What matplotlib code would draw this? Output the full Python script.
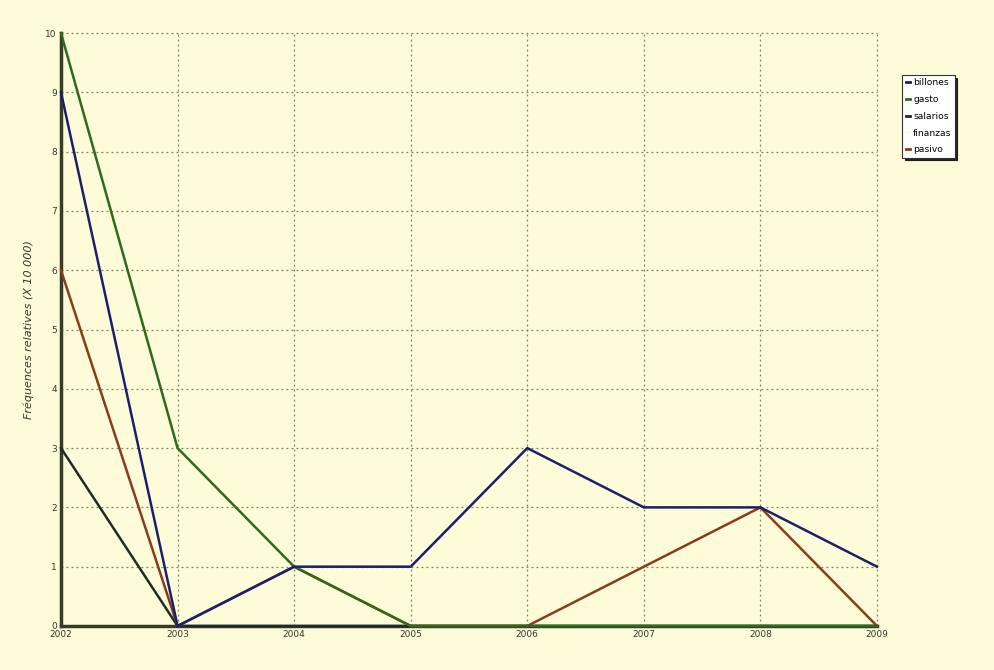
import matplotlib.pyplot as plt

years = [2002, 2003, 2004, 2005, 2006, 2007, 2008, 2009]
billones = [9, 0, 1, 1, 3, 2, 2, 1]
gasto = [10, 3, 1, 0, 0, 0, 0, 0]
salarios = [3, 0, 0, 0, 0, 0, 0, 0]
finanzas = [0, 0, 0, 0, 0, 0, 0, 0]
pasivo = [6, 0, 1, 0, 0, 1, 2, 0]

bg = '#fefcd8'
series = [
    ('finanzas', finanzas, bg, 1),
    ('salarios', salarios, '#1f2b2a', 3),
    ('pasivo', pasivo, '#8a3b1c', 4),
    ('gasto', gasto, '#2c6a1c', 5),
    ('billones', billones, '#1c1f6e', 6),
]
legend_order = ['billones', 'gasto', 'salarios', 'finanzas', 'pasivo']

fig = plt.figure(figsize=(9.95, 6.7), dpi=100)
fig.patch.set_facecolor(bg)
ax = fig.add_axes([0.0613, 0.0657, 0.8201, 0.885])
ax.set_facecolor(bg)

handles = {}
for name, vals, col, z in series:
    ln, = ax.plot(years, vals, color=col, linewidth=1.8, zorder=z, label=name,
                  clip_on=False)
    handles[name] = ln

ax.set_xlim(2002, 2009)
ax.set_ylim(0, 10)
ax.set_xticks(years)
ax.set_yticks(range(11))
ax.tick_params(length=0, labelsize=6.5, colors='#333333', pad=3)
ax.grid(True, linestyle=(0, (1.5, 2.5)), color='#7d7d5c', linewidth=0.9)
for gl in ax.get_xgridlines() + ax.get_ygridlines():
    gl.set_clip_on(False)
for s in ['top', 'right']:
    ax.spines[s].set_visible(False)
ax.spines['left'].set_color('#3a3a2a')
ax.spines['left'].set_linewidth(2.5)
ax.spines['bottom'].set_color('#3a3a2a')
ax.spines['bottom'].set_linewidth(2.5)
ax.set_axisbelow(True)

ax.set_ylabel('Fréquences relatives (X 10 000)', fontsize=8, style='italic', color='#333333', labelpad=8)

leg = fig.legend([handles[n] for n in legend_order], legend_order,
                 loc='upper left', bbox_to_anchor=(0.907, 0.888), fontsize=6.6,
                 handlelength=0.5, handletextpad=0.3, borderpad=0.35, labelspacing=0.85,
                 borderaxespad=0, frameon=True, fancybox=False,
                 shadow={'color': '#111111', 'alpha': 0.9},
                 facecolor='white', edgecolor='#333333')
leg.get_frame().set_linewidth(0.8)
for lh in leg.get_lines():
    lh.set_linewidth(2)

fig.savefig('out.png', dpi=100, facecolor=bg)
